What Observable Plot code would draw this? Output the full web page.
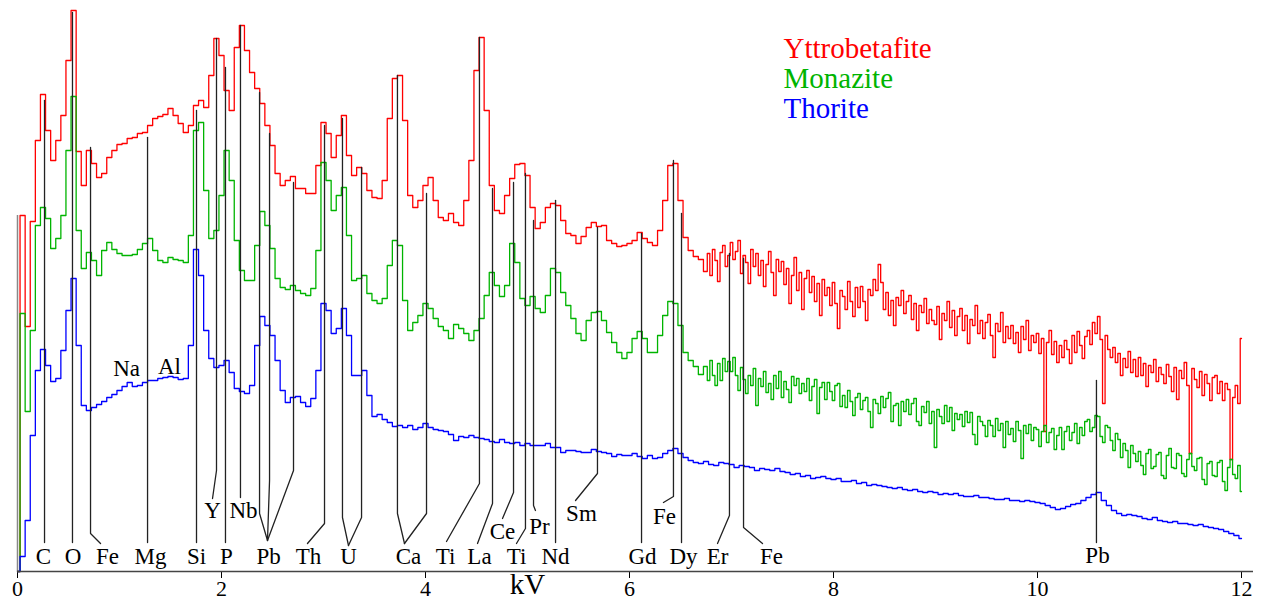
<!DOCTYPE html>
<html>
<head>
<meta charset="utf-8">
<script src="https://cdn.jsdelivr.net/npm/d3@7"></script>
<script src="https://cdn.jsdelivr.net/npm/@observablehq/plot@0.6"></script>
<style>
  html, body { margin: 0; padding: 0; background: #fff; }
  #chart svg { display: block; }
</style>
</head>
<body>
<div id="chart"></div>
<script>
// ---------- DATA ----------
// Low-energy channels: 0 to 6.70 kV, 0.05 kV wide (135 channels)
// High-energy channels: 6.75 to 12.00 kV, 0.025 kV wide (211 channels)
const lowWidth = 0.05, lowCount = 135;
const highStart = 6.75, highWidth = 0.025, highCount = 211;
// Thorite is read on a single 0.05 kV grid, 0 to 12 kV (241 channels)
const thoriteCount = 241;

const seriesNames = ["Yttrobetafite", "Monazite", "Thorite"];
const seriesColors = ["#ff0000", "#00b400", "#0000ff"];

const yttrobetafiteLow = [
  0, 356, 245, 350, 431, 477, 441, 411, 431, 456,
  511, 561, 420, 386, 421, 408, 394, 398, 414, 421,
  427, 428, 433, 434, 438, 439, 446, 453, 455, 457,
  463, 456, 448, 439, 446, 466, 471, 464, 496, 533,
  516, 481, 461, 524, 546, 521, 499, 483, 468, 446,
  426, 398, 386, 391, 395, 383, 383, 378, 378, 406,
  449, 438, 414, 436, 456, 416, 396, 404, 398, 381,
  374, 373, 391, 453, 493, 496, 451, 376, 364, 371,
  386, 394, 371, 354, 351, 358, 349, 346, 371, 411,
  501, 534, 461, 386, 361, 358, 376, 393, 407, 408,
  396, 364, 343, 349, 364, 368, 366, 351, 338, 336,
  328, 335, 344, 349, 345, 346, 331, 328, 325, 326,
  328, 331, 339, 333, 329, 326, 341, 371, 406, 408,
  371, 334, 321, 315, 312
];
const yttrobetafiteHigh = [
  300, 318, 296, 322, 311, 290, 319, 326, 305, 316,
  329, 312, 320, 331, 298, 316, 309, 288, 322, 305,
  318, 296, 311, 285, 307, 320, 299, 276, 312, 300,
  310, 287, 303, 268, 296, 314, 281, 299, 262, 293,
  301, 279, 295, 270, 288, 256, 292, 276, 284, 266,
  289, 268, 243, 281, 275, 262, 290, 270, 255, 284,
  264, 285, 270, 251, 282, 276, 292, 281, 307, 289,
  262, 279, 256, 271, 246, 274, 266, 281, 258, 270,
  276, 252, 268, 241, 266, 259, 273, 248, 262, 251,
  247, 265, 232, 258, 251, 270, 244, 261, 236, 255,
  263, 241, 256, 228, 252, 246, 266, 238, 251, 233,
  249, 257, 236, 214, 248, 240, 259, 229, 245, 233,
  246, 228, 239, 219, 245, 232, 251, 221, 236, 229,
  238, 218, 233, 140, 229, 241, 217, 230, 209, 226,
  214, 231, 222, 208, 236, 219, 240, 226, 213, 235,
  241, 227, 249, 238, 255, 232, 168, 236, 222, 214,
  224, 209, 218, 196, 213, 204, 220, 199, 212, 195,
  214, 196, 208, 185, 206, 199, 212, 190, 204, 197,
  188, 207, 195, 180, 204, 172, 201, 193, 209, 186,
  118, 203, 192, 184, 200, 176, 197, 188, 171, 194,
  196, 178, 190, 171, 188, 182, 112, 174, 186, 168,
  233
];

const monaziteLow = [
  0, 258, 160, 241, 346, 364, 353, 323, 333, 356,
  421, 475, 341, 303, 319, 311, 296, 321, 329, 322,
  318, 316, 316, 317, 322, 328, 333, 321, 311, 309,
  314, 312, 311, 309, 336, 441, 449, 381, 333, 341,
  376, 421, 391, 331, 301, 291, 291, 326, 360, 346,
  323, 293, 284, 282, 286, 281, 278, 276, 283, 321,
  409, 391, 361, 376, 384, 336, 291, 293, 296, 278,
  271, 268, 273, 306, 331, 326, 271, 241, 249, 256,
  268, 263, 253, 245, 241, 233, 247, 243, 238, 231,
  241, 253, 276, 299, 286, 275, 286, 328, 309, 273,
  266, 275, 263, 259, 276, 303, 299, 279, 266, 253,
  238, 231, 251, 259, 260, 251, 239, 229, 219, 213,
  219, 233, 240, 233, 219, 219, 236, 256, 270, 268,
  246, 219, 211, 205, 197
];
const monaziteHigh = [
  205, 191, 211, 196, 186, 208, 191, 213, 200, 210,
  200, 214, 196, 181, 204, 192, 178, 196, 186, 203,
  166, 193, 185, 200, 179, 188, 172, 196, 183, 200,
  174, 190, 182, 169, 195, 186, 193, 178, 188, 180,
  193, 171, 185, 192, 158, 184, 189, 172, 189, 180,
  171, 186, 188, 165, 176, 164, 181, 170, 156, 174,
  178, 162, 171, 174, 160, 144, 172, 168, 158, 175,
  164, 173, 179, 150, 166, 168, 146, 170, 160, 172,
  157, 168, 173, 150, 146, 165, 159, 170, 148, 160,
  124, 162, 155, 148, 166, 150, 164, 141, 158, 152,
  157, 145, 160, 149, 159, 137, 127, 155, 150, 146,
  135, 151, 146, 135, 153, 141, 148, 124, 150, 137,
  143, 130, 150, 141, 113, 146, 138, 147, 131, 144,
  142, 125, 140, 146, 129, 139, 143, 122, 136, 144,
  122, 140, 145, 131, 139, 148, 128, 144, 136, 150,
  152, 140, 144, 156, 155, 135, 129, 146, 144, 131,
  121, 138, 132, 114, 128, 121, 104, 126, 118, 110,
  120, 106, 97, 118, 122, 103, 105, 117, 119, 96,
  93, 116, 123, 104, 103, 118, 116, 98, 95, 112,
  118, 105, 101, 113, 114, 92, 87, 108, 110, 96,
  95, 109, 111, 90, 81, 104, 112, 97, 93, 106,
  80
];

const thorite = [
  0, 15, 51, 136, 201, 222, 206, 190, 193, 221,
  261, 293, 226, 166, 161, 164, 167, 170, 174, 177,
  181, 185, 189, 185, 186, 189, 191, 191, 193, 194,
  195, 194, 192, 193, 226, 322, 296, 241, 213, 204,
  206, 211, 199, 183, 180, 178, 186, 226, 255, 246,
  236, 211, 181, 169, 174, 175, 169, 165, 173, 201,
  268, 261, 238, 243, 263, 236, 196, 196, 201, 176,
  155, 157, 152, 149, 145, 146, 144, 146, 142, 144,
  148, 144, 142, 141, 140, 137, 131, 135, 134, 136,
  134, 133, 132, 130, 129, 132, 129, 128, 129, 126,
  128, 126, 126, 126, 128, 124, 124, 119, 121, 121,
  120, 119, 119, 122, 120, 119, 118, 115, 117, 116,
  116, 118, 115, 113, 116, 113, 114, 118, 121, 123,
  118, 114, 111, 109, 108, 110, 107, 106, 109, 108,
  107, 104, 106, 105, 104, 101, 103, 102, 101, 103,
  100, 99, 97, 98, 95, 96, 93, 94, 95, 93,
  92, 93, 90, 90, 91, 88, 89, 86, 87, 86,
  85, 84, 83, 84, 82, 81, 82, 80, 79, 80,
  79, 77, 78, 77, 78, 76, 75, 75, 76, 74,
  74, 73, 72, 72, 73, 71, 71, 70, 71, 70,
  69, 68, 66, 64, 62, 63, 65, 67, 68, 71,
  74, 77, 79, 71, 66, 61, 58, 56, 57, 56,
  55, 53, 52, 54, 51, 50, 49, 50, 48, 48,
  47, 46, 47, 45, 44, 43, 42, 40, 38, 36,
  33
];

// detector start marker (kV, counts)
const startMarkerKV = [0];
const startMarkerTop = [356];

// element lines: peak energy (kV), top of line, bend height, foot (kV, counts)
const lineElement = ["C","O","Fe","Mg","Si","P","Y","Nb","Pb","Pb","Pb","Th","U","U","Ca","Ca","Ti","La","Ce","Ti","Pr","Nd","Sm","Gd","Fe","Dy","Er","Fe","Pb"];
const linePeakKV  = [0.265,0.539,0.716,1.275,1.755,2.039,1.951,2.186,2.373,2.471,2.706,3.010,3.186,3.373,3.725,4.010,4.529,4.657,4.863,4.980,5.059,5.275,5.686,6.118,6.431,6.510,6.980,7.118,10.578];
const lineTop     = [471,559,424,434,461,504,533,546,479,438,389,446,453,404,496,378,534,383,389,398,351,371,344,338,411,358,318,313,191];
const lineBend    = [29,29,38,29,29,29,101,74,58,91,101,48,54,54,58,58,88,68,79,43,66,29,98,29,75,29,56,44,29];
const lineFootKV  = [0.265,0.539,0.814,1.275,1.755,2.039,1.912,2.186,2.451,2.451,2.451,2.843,3.245,3.245,3.794,3.794,4.206,4.510,4.755,4.892,5.078,5.275,5.471,6.118,6.333,6.510,6.863,7.304,10.578];
const lineFootY   = [29,29,28,29,29,29,73,74,31,31,31,28,26,26,28,28,30,28,53,28,61,29,71,29,69,29,28,28,29];

// element labels: text, centre (kV), baseline (counts)
const labelText = ["C","O","Fe","Mg","Si","P","Y","Nb","Pb","Th","U","Ca","Ti","La","Ce","Ti","Pr","Nd","Sm","Gd","Fe","Dy","Er","Fe","Pb","Na","Al"];
const labelKV   = [0.255,0.544,0.882,1.304,1.755,2.049,1.912,2.216,2.461,2.853,3.245,3.833,4.196,4.529,4.755,4.892,5.118,5.275,5.529,6.127,6.343,6.529,6.863,7.392,10.588,1.069,1.490];
const labelBase = [8,8,8,8,8,8,54,54,8,8,8,8,8,8,33,8,38,8,51,8,48,8,8,8,9,196,198];

const xTicks = [0, 2, 4, 6, 8, 10, 12];
const axisTitle = ["kV"];
const axisTitleKV = [5.0];

// ---------- BUILD ----------
const lowEnergy = d3.range(lowCount).map(i => +(i * lowWidth).toFixed(3));
const highEnergy = d3.range(highCount).map(j => +(highStart + j * highWidth).toFixed(3));
const splitEnergy = lowEnergy.concat(highEnergy);
const thoriteEnergy = d3.range(thoriteCount).map(i => +(i * lowWidth).toFixed(3));

const seriesValues = [
  yttrobetafiteLow.concat(yttrobetafiteHigh),
  monaziteLow.concat(monaziteHigh),
  thorite
];
const seriesEnergy = [splitEnergy, splitEnergy, thoriteEnergy];
const spectra = seriesNames.flatMap((name, s) =>
  seriesValues[s].map((v, i) => ({name, kV: seriesEnergy[s][i], counts: v})));

const leaders = lineElement.flatMap((el, i) => [
  {id: i, kV: lineFootKV[i], counts: lineFootY[i]},
  {id: i, kV: linePeakKV[i], counts: lineBend[i]},
  {id: i, kV: linePeakKV[i], counts: lineTop[i]}
]);

const serif = "'Liberation Serif', 'Times New Roman', serif";
const legendBaselines = [57, 87, 117];

const chart = Plot.plot({
  width: 1261,
  height: 600,
  marginLeft: 17,
  marginRight: 8,
  marginTop: 0,
  marginBottom: 29,
  style: {fontFamily: serif, fontSize: "22px", color: "#000", background: "#fff"},
  x: {domain: [0, 12], range: [17, 1241], ticks: xTicks, tickSize: 7, tickPadding: 2, tickFormat: d => String(d), label: null},
  y: {domain: [0, 571], axis: null},
  color: {domain: seriesNames, range: seriesColors},
  marks: [
    Plot.ruleX(startMarkerKV, {x: d => d, y1: 0, y2: (d, i) => startMarkerTop[i], stroke: "#888", strokeWidth: 1.5}),
    Plot.line(spectra, {x: "kV", y: "counts", z: "name", stroke: "name", curve: "step", strokeWidth: 1.3}),
    Plot.line(leaders, {x: "kV", y: "counts", z: "id", stroke: "#222", strokeWidth: 1.3}),
    Plot.ruleY([0], {stroke: "#444", strokeWidth: 1.3}),
    Plot.text(labelText, {x: (d, i) => labelKV[i], y: (d, i) => labelBase[i], text: d => d, lineAnchor: "bottom", fontSize: 23, fill: "#000"}),
    Plot.text(axisTitle, {x: (d, i) => axisTitleKV[i], y: 0, text: d => d, lineAnchor: "bottom", dy: 22, fontSize: 29, fill: "#000"}),
    ...seriesNames.map((name, i) => Plot.text([name], {
      frameAnchor: "top-left", dx: 766, dy: legendBaselines[i], text: d => d,
      textAnchor: "start", lineAnchor: "bottom", fontSize: 29, fill: seriesColors[i]
    }))
  ]
});
document.getElementById("chart").appendChild(chart);
</script>
</body>
</html>
